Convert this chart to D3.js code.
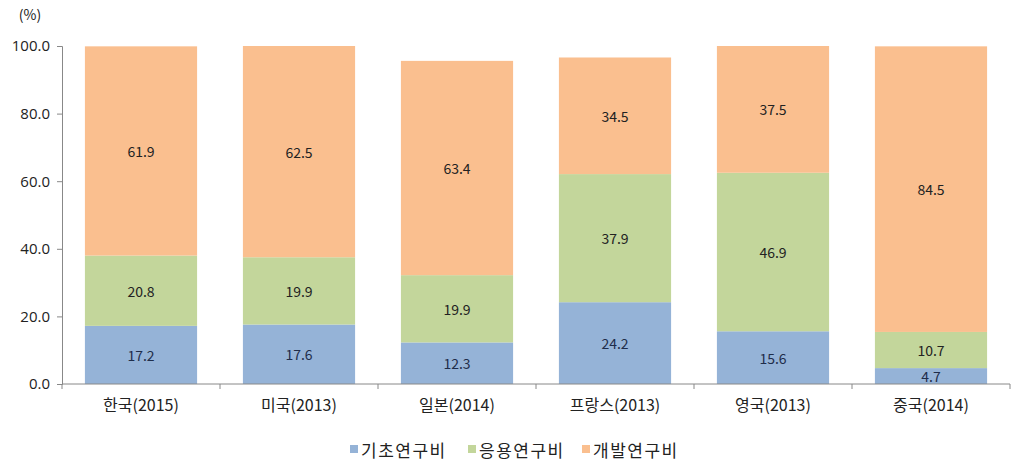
<!DOCTYPE html>
<html>
<head>
<meta charset="utf-8">
<script src="https://cdn.jsdelivr.net/npm/d3@7"></script>
<style>
  body { margin: 0; background: #fff; }
  svg { font-family: "Noto Sans CJK KR", "Noto Sans", sans-serif; }
</style>
</head>
<body>
<svg id="chart" width="1024" height="470"></svg>
<script>
const countries = ["한국(2015)", "미국(2013)", "일본(2014)", "프랑스(2013)", "영국(2013)", "중국(2014)"];
const series = ["기초연구비", "응용연구비", "개발연구비"];
const basic = [17.2, 17.6, 12.3, 24.2, 15.6, 4.7];
const applied = [20.8, 19.9, 19.9, 37.9, 46.9, 10.7];
const develop = [61.9, 62.5, 63.4, 34.5, 37.5, 84.5];
const yTicks = [0, 20, 40, 60, 80, 100];
const colors = ["#95b3d7", "#c3d69b", "#fabf8f"];

const svg = d3.select("#chart");
const plotLeft = 62, plotRight = 1010, plotTop = 46, plotBottom = 384;

const x = d3.scaleBand().domain(countries).range([plotLeft, plotRight]).paddingInner(0.29).paddingOuter(0.145);
const y = d3.scaleLinear().domain([0, 100]).range([plotBottom, plotTop]);

const rows = countries.map((c, i) => ({ country: c, 0: basic[i], 1: applied[i], 2: develop[i] }));
const stacked = d3.stack().keys([0, 1, 2])(rows);

// bars
svg.append("g").selectAll("g")
  .data(stacked)
  .join("g")
  .attr("fill", d => colors[d.key])
  .selectAll("rect")
  .data(d => d)
  .join("rect")
  .attr("x", d => x(d.data.country))
  .attr("y", d => y(d[1]))
  .attr("width", x.bandwidth())
  .attr("height", d => y(d[0]) - y(d[1]));

// value labels
svg.append("g").selectAll("g")
  .data(stacked)
  .join("g")
  .attr("fill", d => d.key === 0 ? "#1f2d4a" : "#222")
  .selectAll("text")
  .data(d => d)
  .join("text")
  .attr("x", d => x(d.data.country) + x.bandwidth() / 2)
  .attr("y", d => (y(d[0]) + y(d[1])) / 2)
  .attr("text-anchor", "middle")
  .attr("dominant-baseline", "central")
  .attr("font-size", 14)
  .text(d => (d[1] - d[0]).toFixed(1));

// y axis
const yAxis = svg.append("g")
  .attr("transform", `translate(${plotLeft},0)`)
  .call(d3.axisLeft(y).tickValues(yTicks).tickFormat(d3.format(".1f")).tickSizeOuter(0).tickSize(5));
yAxis.select(".domain").attr("stroke", "#888");
yAxis.selectAll(".tick line").attr("stroke", "#888");
yAxis.selectAll("text").attr("font-size", 15).attr("fill", "#222").attr("x", -12)
  .attr("font-family", "'Open Sans', 'Noto Sans', sans-serif");

svg.append("text")
  .attr("x", 30).attr("y", 20)
  .attr("text-anchor", "middle")
  .attr("font-size", 14).attr("fill", "#222")
  .text("(%)");

// x axis
const xAxis = svg.append("g").attr("transform", `translate(0,${plotBottom})`);
xAxis.append("line").attr("x1", plotLeft).attr("x2", plotRight).attr("stroke", "#888");
xAxis.selectAll("line.tk")
  .data(d3.range(countries.length + 1))
  .join("line")
  .attr("class", "tk")
  .attr("x1", i => plotLeft + i * x.step())
  .attr("x2", i => plotLeft + i * x.step())
  .attr("y1", 0).attr("y2", 5)
  .attr("stroke", "#888");
xAxis.selectAll("text")
  .data(countries)
  .join("text")
  .attr("x", d => x(d) + x.bandwidth() / 2)
  .attr("y", 27)
  .attr("text-anchor", "middle")
  .attr("font-size", 16).attr("fill", "#222")
  .text(d => d);

// legend
const legendX = [350, 468, 582];
const legend = svg.append("g").selectAll("g")
  .data(series)
  .join("g")
  .attr("transform", (d, i) => `translate(${legendX[i]},449)`);
legend.append("rect")
  .attr("x", 0).attr("y", -4).attr("width", 8).attr("height", 8)
  .attr("fill", (d, i) => colors[i]);
legend.append("text")
  .attr("x", 11).attr("y", 0)
  .attr("dominant-baseline", "central")
  .attr("font-size", 17).attr("fill", "#222")
  .attr("letter-spacing", 1.5)
  .text(d => d);
</script>
</body>
</html>
